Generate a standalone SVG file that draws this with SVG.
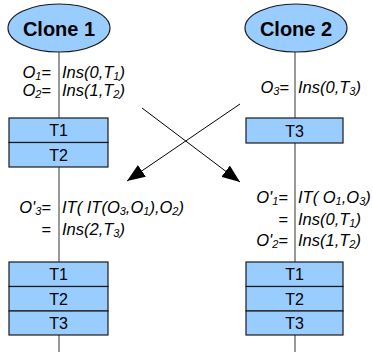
<svg xmlns="http://www.w3.org/2000/svg" width="373" height="352" viewBox="0 0 373 352">
  <defs>
    <marker id="arrow" viewBox="0 0 18 14" refX="18" refY="7" markerWidth="18" markerHeight="14" markerUnits="userSpaceOnUse" orient="auto">
      <path d="M0,0 L18,7 L0,14 Z" fill="#000"/>
    </marker>
  </defs>
  <style>
    .clone { fill: #99ccff; stroke: #1a1a1a; stroke-width: 1.2; }
    .clone-label { font-family: "Liberation Sans", Arial, sans-serif; font-weight: bold; font-size: 20px; fill: #000; text-anchor: middle; }
    .cell { fill: #99ccff; stroke: #1a1a1a; stroke-width: 1.2; }
    .cell-label { font-family: "Liberation Sans", Arial, sans-serif; font-size: 16px; fill: #000; text-anchor: middle; }
    .timeline { stroke: #555; stroke-width: 1.2; fill: none; }
    .xfer { stroke: #000; stroke-width: 1; fill: none; marker-end: url(#arrow); }
    .op { font-family: "Liberation Sans", Arial, sans-serif; font-style: italic; font-size: 16.5px; fill: #000; }
    .lhs { text-anchor: end; }
    .sub { font-size: 11px; }
  </style>

  <!-- timelines -->
  <g id="timelines">
    <line class="timeline" x1="59" y1="52" x2="59" y2="118"/>
    <line class="timeline" x1="59" y1="167" x2="59" y2="262"/>
    <line class="timeline" x1="59" y1="335" x2="59" y2="352"/>
    <line class="timeline" x1="295" y1="52" x2="295" y2="118"/>
    <line class="timeline" x1="295" y1="143" x2="295" y2="262"/>
    <line class="timeline" x1="295" y1="335" x2="295" y2="352"/>
  </g>

  <!-- operations sent between the clones -->
  <g id="connectors">
    <line class="xfer" x1="142" y1="108" x2="240" y2="182"/>
    <line class="xfer" x1="240" y1="104" x2="127" y2="181"/>
  </g>

  <g id="clone1">
    <ellipse class="clone" cx="59" cy="28" rx="51" ry="24"/>
    <text class="clone-label" x="59" y="36">Clone 1</text>
  </g>

  <g id="clone2">
    <ellipse class="clone" cx="296" cy="28" rx="51" ry="24"/>
    <text class="clone-label" x="296" y="36">Clone 2</text>
  </g>

  <!-- local operations at clone 1 -->
  <g id="ops1">
    <text class="op lhs" x="51" y="78">O<tspan class="sub" dy="2">1</tspan><tspan dy="-2">=</tspan></text>
    <text class="op" x="62" y="78">Ins(0,T<tspan class="sub" dy="2">1</tspan><tspan dy="-2">)</tspan></text>
    <text class="op lhs" x="51" y="96">O<tspan class="sub" dy="2">2</tspan><tspan dy="-2">=</tspan></text>
    <text class="op" x="62" y="96">Ins(1,T<tspan class="sub" dy="2">2</tspan><tspan dy="-2">)</tspan></text>
  </g>

  <!-- local operation at clone 2 -->
  <g id="ops2">
    <text class="op lhs" x="289" y="93">O<tspan class="sub" dy="2">3</tspan><tspan dy="-2">=</tspan></text>
    <text class="op" x="298" y="93">Ins(0,T<tspan class="sub" dy="2">3</tspan><tspan dy="-2">)</tspan></text>
  </g>

  <g id="doc1a">
    <rect class="cell" x="9" y="118" width="99" height="24.5"/>
    <rect class="cell" x="9" y="142.5" width="99" height="24.5"/>
    <text class="cell-label" x="58.5" y="136">T1</text>
    <text class="cell-label" x="58.5" y="160.5">T2</text>
  </g>

  <g id="doc2a">
    <rect class="cell" x="246" y="118" width="97" height="25"/>
    <text class="cell-label" x="294.5" y="136.5">T3</text>
  </g>

  <!-- transformed operations -->
  <g id="ops1t">
    <text class="op lhs" x="51" y="213">O'<tspan class="sub" dy="2">3</tspan><tspan dy="-2">=</tspan></text>
    <text class="op" x="62" y="213">IT( IT(O<tspan class="sub" dy="2">3</tspan><tspan dy="-2">,O</tspan><tspan class="sub" dy="2">1</tspan><tspan dy="-2">),O</tspan><tspan class="sub" dy="2">2</tspan><tspan dy="-2">)</tspan></text>
    <text class="op lhs" x="51" y="235">=</text>
    <text class="op" x="62" y="235">Ins(2,T<tspan class="sub" dy="2">3</tspan><tspan dy="-2">)</tspan></text>
  </g>

  <g id="ops2t">
    <text class="op lhs" x="288" y="203">O'<tspan class="sub" dy="2">1</tspan><tspan dy="-2">=</tspan></text>
    <text class="op" x="298" y="203">IT( O<tspan class="sub" dy="2">1</tspan><tspan dy="-2">,O</tspan><tspan class="sub" dy="2">3</tspan><tspan dy="-2">)</tspan></text>
    <text class="op lhs" x="288" y="225">=</text>
    <text class="op" x="298" y="225">Ins(0,T<tspan class="sub" dy="2">1</tspan><tspan dy="-2">)</tspan></text>
    <text class="op lhs" x="288" y="246">O'<tspan class="sub" dy="2">2</tspan><tspan dy="-2">=</tspan></text>
    <text class="op" x="298" y="246">Ins(1,T<tspan class="sub" dy="2">2</tspan><tspan dy="-2">)</tspan></text>
  </g>

  <g id="doc1b">
    <rect class="cell" x="9" y="262" width="99" height="24.5"/>
    <rect class="cell" x="9" y="286.5" width="99" height="24.5"/>
    <rect class="cell" x="9" y="311" width="99" height="24"/>
    <text class="cell-label" x="58.5" y="280">T1</text>
    <text class="cell-label" x="58.5" y="304.5">T2</text>
    <text class="cell-label" x="58.5" y="329">T3</text>
  </g>

  <g id="doc2b">
    <rect class="cell" x="246" y="262" width="97" height="24.5"/>
    <rect class="cell" x="246" y="286.5" width="97" height="24.5"/>
    <rect class="cell" x="246" y="311" width="97" height="24"/>
    <text class="cell-label" x="294.5" y="280">T1</text>
    <text class="cell-label" x="294.5" y="304.5">T2</text>
    <text class="cell-label" x="294.5" y="329">T3</text>
  </g>
</svg>
